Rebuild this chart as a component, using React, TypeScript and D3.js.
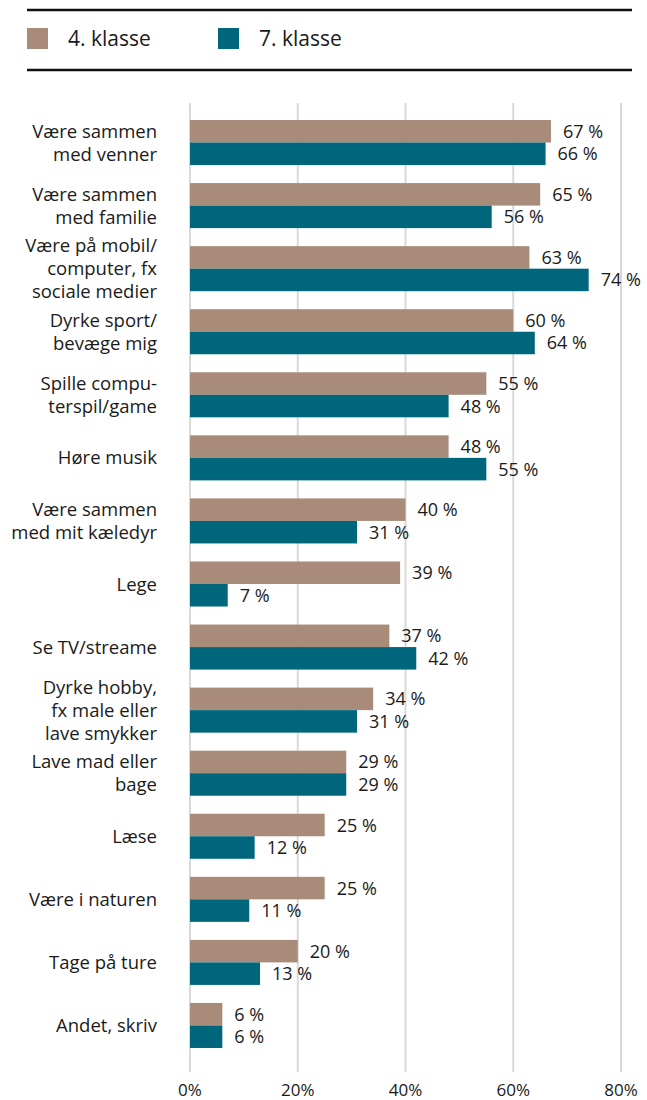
import React from 'react';
import * as d3 from 'd3';

const categories = [
  ['Være sammen', 'med venner'],
  ['Være sammen', 'med familie'],
  ['Være på mobil/', 'computer, fx', 'sociale medier'],
  ['Dyrke sport/', 'bevæge mig'],
  ['Spille compu-', 'terspil/game'],
  ['Høre musik'],
  ['Være sammen', 'med mit kæledyr'],
  ['Lege'],
  ['Se TV/streame'],
  ['Dyrke hobby,', 'fx male eller', 'lave smykker'],
  ['Lave mad eller', 'bage'],
  ['Læse'],
  ['Være i naturen'],
  ['Tage på ture'],
  ['Andet, skriv'],
];
const grade4 = [67, 65, 63, 60, 55, 48, 40, 39, 37, 34, 29, 25, 25, 20, 6];
const grade7 = [66, 56, 74, 64, 48, 55, 31, 7, 42, 31, 29, 12, 11, 13, 6];
const seriesNames = ['4. klasse', '7. klasse'];
const seriesColors = ['#a98b7a', '#00667c'];
const ticks = [0, 20, 40, 60, 80];

const W = 647;
const H = 1100;
const FONT = '"Open Sans", "Noto Sans", sans-serif';

const App = () => {
  const keys = categories.map((c) => c.join(' '));
  const x = d3.scaleLinear().domain([0, 80]).range([190, 621]);
  const y = d3.scaleBand().domain(keys).range([111, 1057]).paddingInner(0.286).paddingOuter(0.143);
  const inner = d3.scaleBand().domain(seriesNames).range([0, y.bandwidth()]);
  const values = [grade4, grade7];

  return (
    <svg width={W} height={H} style={{ position: 'absolute', left: 0, top: 0 }} fontFamily={FONT}>
      <rect width={W} height={H} fill="#fff" />
      {/* legend */}
      <line x1={27} x2={632} y1={10} y2={10} stroke="#111" strokeWidth={2.5} />
      <line x1={27} x2={632} y1={70} y2={70} stroke="#111" strokeWidth={2.5} />
      {seriesNames.map((s, i) => (
        <g key={s} transform={`translate(${[27, 218][i]},28)`}>
          <rect width={21} height={21} fill={seriesColors[i]} />
          <text x={41} y={18} fontSize={21} fill="#1a1a1a">{s}</text>
        </g>
      ))}
      {/* grid */}
      {ticks.map((t) => (
        <g key={t}>
          <line x1={x(t)} x2={x(t)} y1={103} y2={1072} stroke="#d9d9d9" strokeWidth={2} />
          <text x={x(t)} y={1096} textAnchor="middle" fontSize={17} fill="#1a1a1a">{t}%</text>
        </g>
      ))}
      {/* bars */}
      {keys.map((k, ci) => {
        const y0 = y(k)!;
        const mid = y0 + y.bandwidth() / 2;
        const lines = categories[ci];
        return (
          <g key={k}>
            {lines.map((l, li) => (
              <text key={li} x={157} y={mid + (li - (lines.length - 1) / 2) * 23 + 6.5} textAnchor="end" fontSize={18.5} fill="#1a1a1a">{l}</text>
            ))}
            {seriesNames.map((s, si) => {
              const v = values[si][ci];
              const by = y0 + inner(s)!;
              return (
                <g key={s}>
                  <rect x={x(0)} y={by} width={x(v) - x(0)} height={inner.bandwidth()} fill={seriesColors[si]} />
                  <text x={x(v) + 12} y={by + inner.bandwidth() / 2 + 6.5} fontSize={18} fill="#1a1a1a">{v} %</text>
                </g>
              );
            })}
          </g>
        );
      })}
    </svg>
  );
};

export default App;
